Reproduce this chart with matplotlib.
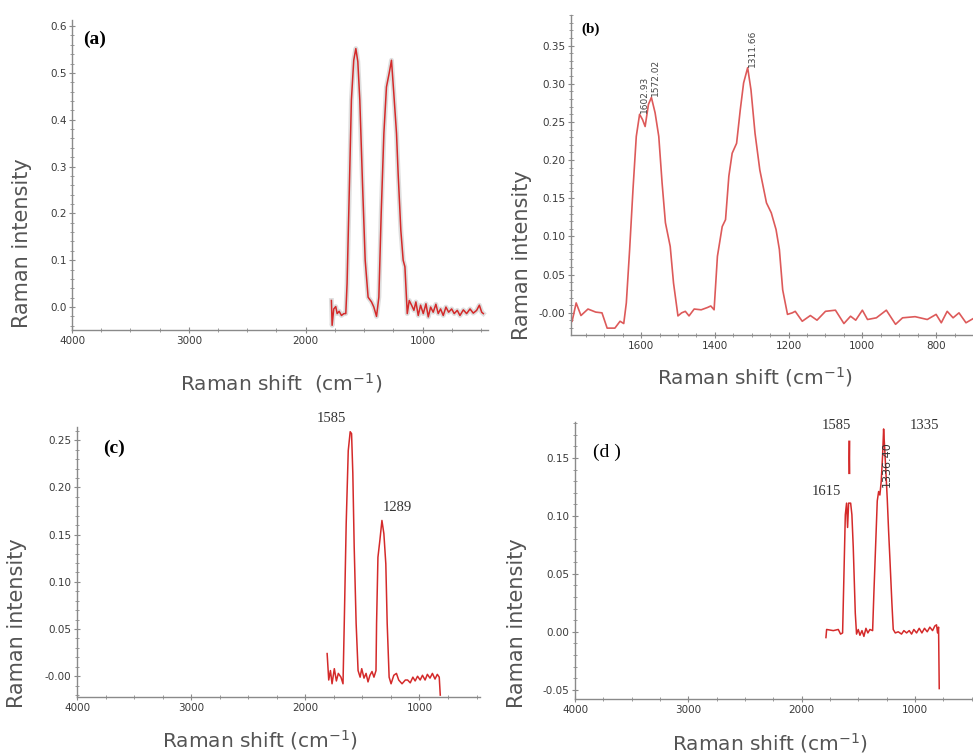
import matplotlib
matplotlib.use("Agg")
import matplotlib.pyplot as plt
from matplotlib.ticker import AutoMinorLocator


# (a) spectrum
a_shift = [1780, 1774, 1760, 1743, 1731, 1714, 1694, 1674, 1657, 1646, 1629, 1609, 1589, 1571,
           1554, 1537, 1514, 1491, 1466, 1437, 1417, 1394, 1374, 1354, 1331, 1309, 1286, 1266,
           1246, 1223, 1209, 1186, 1166, 1151, 1131, 1114, 1094, 1074, 1057, 1037, 1017, 994,
           971, 951, 931, 909, 886, 866, 846, 823, 800, 777, 751, 729, 703, 680, 651, 623, 594,
           566, 537, 514, 494, 480]
a_int = [0.014, -0.039, -0.004, 0.001, -0.014, -0.009, -0.018, -0.014, -0.014, 0.050, 0.228,
         0.442, 0.527, 0.552, 0.524, 0.442, 0.264, 0.100, 0.021, 0.011, 0.000, -0.020, 0.021,
         0.200, 0.371, 0.470, 0.499, 0.527, 0.456, 0.371, 0.285, 0.164, 0.100, 0.086, -0.014,
         0.014, 0.004, -0.007, 0.011, -0.018, 0.004, -0.014, 0.007, -0.021, 0.000, -0.011,
         0.006, -0.014, -0.004, -0.018, 0.000, -0.011, -0.004, -0.014, -0.007, -0.018, -0.006,
         -0.014, -0.004, -0.013, -0.007, 0.004, -0.011, -0.014]

# (b) spectrum
b_shift = [1787, 1776, 1763, 1744, 1723, 1706, 1692, 1671, 1657, 1647, 1640, 1631, 1622, 1613,
           1604, 1596, 1589, 1580, 1572, 1562, 1552, 1543, 1534, 1521, 1512, 1500, 1490, 1480,
           1470, 1456, 1437, 1420, 1411, 1402, 1393, 1380, 1371, 1362, 1353, 1341, 1331, 1322,
           1311, 1302, 1291, 1278, 1260, 1247, 1234, 1225, 1216, 1203, 1190, 1182, 1163, 1141,
           1123, 1100, 1073, 1050, 1032, 1018, 1000, 986, 962, 935, 910, 891, 857, 824, 800,
           786, 770, 754, 738, 719, 696]
b_int = [-0.011, 0.013, -0.0035, 0.005, 0.001, 0.0, -0.020, -0.020, -0.011, -0.014, 0.013,
         0.083, 0.161, 0.231, 0.260, 0.253, 0.244, 0.273, 0.282, 0.262, 0.231, 0.170, 0.118,
         0.087, 0.039, -0.004, 0.0, 0.002, -0.004, 0.005, 0.004, 0.007, 0.009, 0.004, 0.074,
         0.113, 0.122, 0.179, 0.209, 0.222, 0.266, 0.301, 0.321, 0.292, 0.235, 0.187, 0.144,
         0.131, 0.109, 0.083, 0.030, -0.002, 0.0, 0.002, -0.011, -0.0035, -0.0096, 0.002,
         0.0035, -0.014, -0.0044, -0.0096, 0.0035, -0.0087, -0.0065, 0.0035, -0.015, -0.0065,
         -0.005, -0.0087, -0.002, -0.013, 0.002, -0.0065, 0.0, -0.013, -0.0065]

# (c) spectrum
c_shift = [1809, 1795, 1780, 1766, 1746, 1728, 1711, 1688, 1670, 1659, 1642, 1624, 1607, 1595,
           1584, 1572, 1555, 1538, 1520, 1506, 1486, 1468, 1451, 1434, 1416, 1399, 1381, 1376,
           1364, 1347, 1329, 1312, 1295, 1283, 1266, 1249, 1225, 1202, 1182, 1153, 1124, 1104,
           1081, 1058, 1038, 1017, 994, 974, 951, 931, 908, 887, 864, 844, 827, 818]
c_int = [0.024, -0.004, 0.006, -0.008, 0.008, -0.005, 0.003, -0.001, -0.008, 0.056, 0.162,
         0.239, 0.259, 0.257, 0.215, 0.137, 0.056, 0.006, -0.001, 0.008, -0.002, 0.003, -0.006,
         0.001, 0.005, -0.001, 0.006, 0.056, 0.126, 0.144, 0.165, 0.151, 0.119, 0.056, -0.001,
         -0.008, 0.001, 0.003, -0.004, -0.008, -0.004, -0.004, -0.007, -0.001, -0.005, 0.0,
         -0.004, 0.001, -0.004, 0.002, -0.002, 0.003, -0.003, 0.002, -0.001, -0.020]

# (d) spectrum
d_shift = [1785, 1779, 1720, 1676, 1656, 1638, 1626, 1614, 1603, 1594, 1585, 1567, 1556, 1544,
           1526, 1515, 1500, 1485, 1467, 1450, 1432, 1415, 1397, 1373, 1362, 1347, 1332, 1320,
           1309, 1297, 1285, 1276, 1268, 1256, 1244, 1232, 1220, 1203, 1191, 1173, 1147, 1118,
           1097, 1073, 1050, 1029, 1009, 985, 962, 938, 915, 891, 868, 844, 824, 809, 800, 791, 785]
d_int = [-0.005, 0.002, 0.001, 0.002, -0.002, -0.001, 0.050, 0.101, 0.111, 0.090, 0.111, 0.111,
         0.101, 0.073, 0.016, -0.002, 0.002, -0.003, 0.001, -0.004, 0.003, -0.001, 0.002, 0.001,
         0.033, 0.073, 0.113, 0.121, 0.118, 0.130, 0.152, 0.175, 0.161, 0.138, 0.115, 0.087,
         0.062, 0.025, 0.002, -0.001, 0.0, -0.002, 0.001, -0.001, 0.001, -0.002, 0.002, -0.001,
         0.003, -0.001, 0.003, 0.0, 0.004, 0.001, 0.005, 0.006, -0.001, 0.004, -0.049]
d_spike_shift = [1579, 1580, 1579]
d_spike_int = [0.137, 0.150, 0.164]

# tick labels
a_yticks = [0.0, 0.1, 0.2, 0.3, 0.4, 0.5, 0.6]
a_ylabels = ["0.0", "0.1", "0.2", "0.3", "0.4", "0.5", "0.6"]
b_yticks = [0.0, 0.05, 0.10, 0.15, 0.20, 0.25, 0.30, 0.35]
b_ylabels = ["-0.00", "0.05", "0.10", "0.15", "0.20", "0.25", "0.30", "0.35"]
c_yticks = [0.0, 0.05, 0.10, 0.15, 0.20, 0.25]
c_ylabels = ["-0.00", "0.05", "0.10", "0.15", "0.20", "0.25"]
d_yticks = [-0.05, 0.0, 0.05, 0.10, 0.15]
d_ylabels = ["-0.05", "0.00", "0.05", "0.10", "0.15"]
wide_xticks = [4000, 3000, 2000, 1000]
b_xticks = [1600, 1400, 1200, 1000, 800]

W, H = 973, 755
AXIS_GREY = "#8a8a8a"
TEXT_GREY = "#555555"
RED = "#d42a2a"


def rect(left, top, right, bottom):
    return [left / W, 1 - bottom / H, (right - left) / W, (bottom - top) / H]


def style_axes(ax, xticks, yticks, ylabels, xlim, ylim):
    for side in ("top", "right"):
        ax.spines[side].set_visible(False)
    for side in ("left", "bottom"):
        ax.spines[side].set_color(AXIS_GREY)
        ax.spines[side].set_linewidth(1.0)
    ax.set_xlim(*xlim)
    ax.set_ylim(*ylim)
    ax.set_xticks(xticks)
    ax.set_xticklabels([str(t) for t in xticks])
    ax.set_yticks(yticks)
    ax.set_yticklabels(ylabels)
    ax.xaxis.set_minor_locator(AutoMinorLocator(4))
    ax.yaxis.set_minor_locator(AutoMinorLocator(5))
    ax.tick_params(which="major", direction="inout", length=4, width=0.8, color=AXIS_GREY,
                   labelsize=7.5, labelcolor="#3a3a3a", pad=2)
    ax.tick_params(which="minor", direction="inout", length=2.5, width=0.6, color=AXIS_GREY)


fig = plt.figure(figsize=(W / 100, H / 100), dpi=100)
label_kw = dict(color=TEXT_GREY, fontsize=14.5, family="DejaVu Sans")
ylab_kw = dict(color=TEXT_GREY, fontsize=15, family="DejaVu Sans")
serif = "Liberation Serif"

# (a)
ax = fig.add_axes(rect(72, 20, 488, 330))
ax.plot(a_shift, a_int, color="#c9c9c9", linewidth=3.5, alpha=0.6)
ax.plot(a_shift, a_int, color=RED, linewidth=1.1)
style_axes(ax, wide_xticks, a_yticks, a_ylabels, (4000, 440), (-0.049, 0.613))
ax.text(3808, 0.572, "(a)", fontsize=14, fontweight="bold", family=serif, ha="center", va="center")
fig.text(281 / W, 1 - 383 / H, "Raman shift  (cm$^{-1}$)", ha="center", va="center", **label_kw)
fig.text(22 / W, 1 - 243 / H, "Raman intensity", rotation=90, ha="center", va="center", **ylab_kw)

# (b)
ax = fig.add_axes(rect(571, 15, 973, 335))
ax.plot(b_shift, b_int, color="#dd5a5a", linewidth=1.2)
style_axes(ax, b_xticks, b_yticks, b_ylabels, (1790, 700), (-0.029, 0.39))
ax.text(1737, 0.371, "(b)", fontsize=11, fontweight="bold", family=serif, ha="center", va="center")
for x, y, s in [(1591, 0.286, "1602.93"), (1560, 0.308, "1572.02"), (1298, 0.346, "1311.66")]:
    ax.text(x, y, s, rotation=90, fontsize=6.5, color="#444444", ha="center", va="center")
fig.text(755 / W, 1 - 377 / H, "Raman shift (cm$^{-1}$)", ha="center", va="center", **label_kw)
fig.text(522 / W, 1 - 255 / H, "Raman intensity", rotation=90, ha="center", va="center", **ylab_kw)

# (c)
ax = fig.add_axes(rect(77, 427, 480, 697))
ax.plot(c_shift, c_int, color=RED, linewidth=1.1)
style_axes(ax, wide_xticks, c_yticks, c_ylabels, (4000, 470), (-0.022, 0.264))
ax.text(3673, 0.241, "(c)", fontsize=14, fontweight="bold", family=serif, ha="center", va="center")
ax.text(1775, 0.273, "1585", fontsize=10.5, family=serif, color="#333333", ha="center",
        va="center", clip_on=False)
ax.text(1197, 0.179, "1289", fontsize=10.5, family=serif, color="#333333", ha="center", va="center")
fig.text(260 / W, 1 - 740 / H, "Raman shift (cm$^{-1}$)", ha="center", va="center", **label_kw)
fig.text(17 / W, 1 - 623 / H, "Raman intensity", rotation=90, ha="center", va="center", **ylab_kw)

# (d)
ax = fig.add_axes(rect(575, 422, 973, 699))
ax.plot(d_shift, d_int, color=RED, linewidth=1.1)
ax.plot(d_spike_shift, d_spike_int, color=RED, linewidth=1.6)
style_axes(ax, wide_xticks, d_yticks, d_ylabels, (4000, 487), (-0.058, 0.181))
ax.text(3720, 0.155, "(d )", fontsize=14, family=serif, ha="center", va="center")
for x, y, s in [(1697, 0.178, "1585"), (912, 0.178, "1335"), (1779, 0.121, "1615")]:
    ax.text(x, y, s, fontsize=10.5, family=serif, color="#333333", ha="center", va="center")
ax.text(1250, 0.145, "1336.40", rotation=90, fontsize=8, color="#333333", ha="center", va="center")
fig.text(770 / W, 1 - 743 / H, "Raman shift (cm$^{-1}$)", ha="center", va="center", **label_kw)
fig.text(517 / W, 1 - 623 / H, "Raman intensity", rotation=90, ha="center", va="center", **ylab_kw)

fig.savefig("out.png", dpi=100)
